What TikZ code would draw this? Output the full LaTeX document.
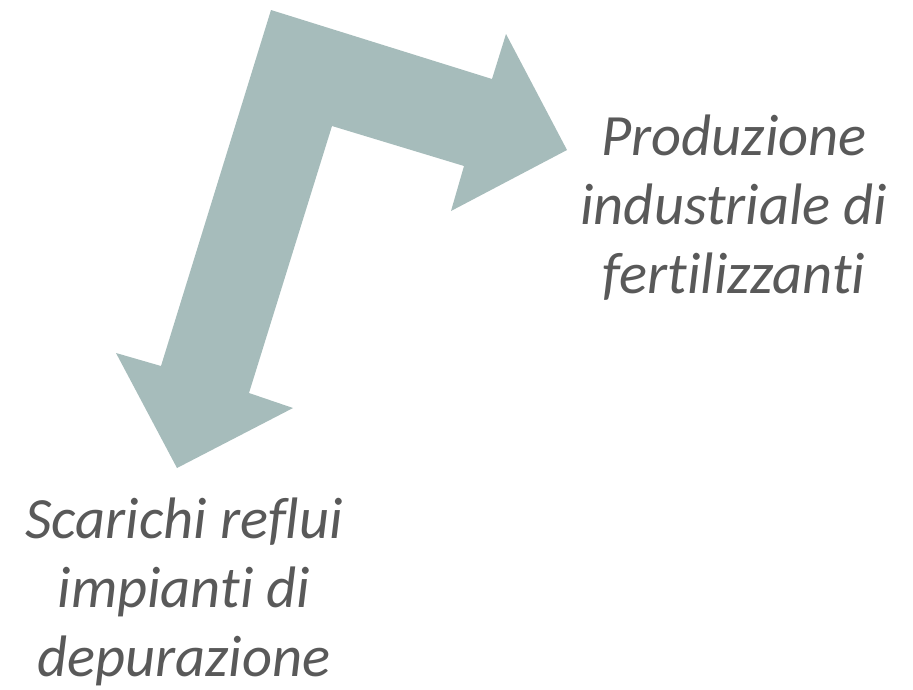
\documentclass[tikz,border=0pt]{standalone}
\usepackage{fontspec}
\setmainfont{Carlito}[RawFeature=-liga]
\definecolor{arrowfill}{HTML}{A6BCBB}
\definecolor{labeltext}{HTML}{595959}
\tikzset{
  lbl/.style={text=labeltext, font=\fontsize{58.5}{69}\selectfont\itshape, align=center, inner sep=0pt, anchor=base},
}
\begin{document}
\begin{tikzpicture}[x=1pt,y=-1pt]
\useasboundingbox (0,0) rectangle (913,689);
\fill[arrowfill] (271,10) -- (492,79) -- (506,34) -- (567,150) -- (451,211) -- (464,166)
  -- (332,126) -- (249,393) -- (293,408) -- (177,468) -- (116,353) -- (161,366) -- cycle;
\node[lbl] (prod) at (734,293) {Produzione\\industriale di\\fertilizzanti};
\node[lbl] (scar) at (184,676) {Scarichi reflui\\impianti di\\depurazione};
\end{tikzpicture}
\end{document}
